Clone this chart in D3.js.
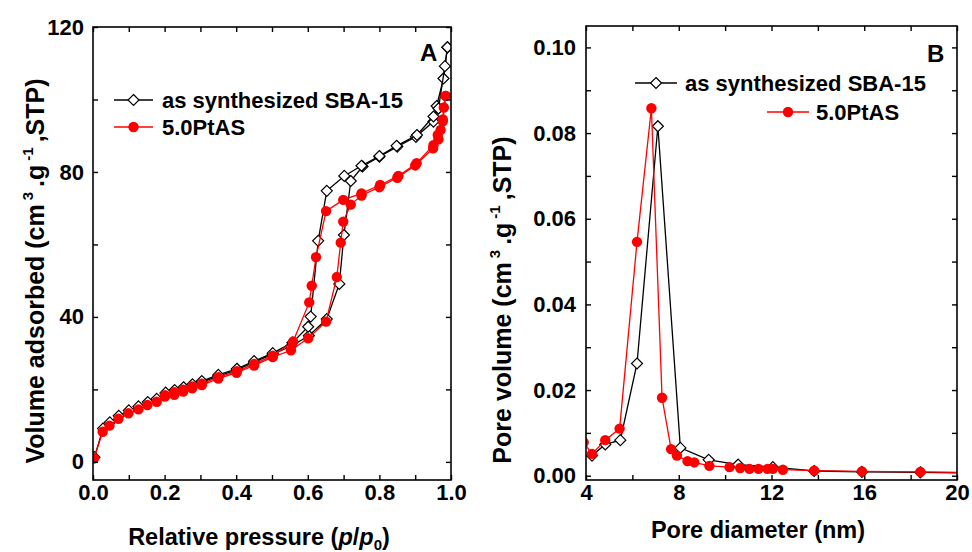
<!DOCTYPE html>
<html><head><meta charset="utf-8">
<script src="https://cdn.jsdelivr.net/npm/d3@7"></script>
<style>
body{margin:0;background:#fff}
svg text{font-family:"Liberation Sans",Arial,sans-serif;font-weight:bold;fill:#000}
</style>
</head><body>
<svg id="c" width="972" height="552"></svg>
<script>
// ---------- Panel A: N2 isotherms (p/p0, cm3/g STP) ----------
const sbaAds = [[0.004,1.3],[0.028,9.2],[0.047,10.9],[0.072,12.7],[0.100,14.2],[0.127,15.3],[0.153,16.5],[0.178,17.4],[0.203,18.9],[0.228,19.5],[0.253,20.3],[0.278,21.1],[0.304,22.0],[0.350,23.7],[0.402,25.4],[0.450,27.5],[0.502,29.7],[0.553,31.9],[0.603,34.8],[0.653,39.4],[0.688,49.1],[0.701,62.6],[0.720,77.5],[0.753,81.5],[0.800,84.2],[0.850,87.0],[0.902,89.7],[0.951,93.9],[0.960,98.2],[0.979,105.8],[0.990,114.4]];
const sbaDes = [[0.990,114.4],[0.983,109.2],[0.965,97.5],[0.951,95.3],[0.905,90.2],[0.848,87.2],[0.800,84.4],[0.750,81.7],[0.702,78.9],[0.653,74.8],[0.629,61.0],[0.608,40.1],[0.601,37.3],[0.557,32.9],[0.502,30.0],[0.450,27.8],[0.402,25.7],[0.350,24.0],[0.304,22.3],[0.278,21.4],[0.253,20.6],[0.228,19.8],[0.203,19.1]];
const ptAds = [[0.003,1.0],[0.027,8.3],[0.046,10.0],[0.071,11.9],[0.099,13.4],[0.127,14.5],[0.152,15.7],[0.178,16.6],[0.201,18.0],[0.227,18.5],[0.252,19.4],[0.277,20.3],[0.304,21.2],[0.350,23.0],[0.401,24.6],[0.450,26.6],[0.502,28.9],[0.553,30.8],[0.601,34.1],[0.651,38.7],[0.681,51.0],[0.692,60.5],[0.699,66.3],[0.720,71.0],[0.750,73.5],[0.800,75.8],[0.850,78.4],[0.900,81.8],[0.950,86.5],[0.963,90.2],[0.971,91.6],[0.977,94.5],[0.980,97.8],[0.985,101.0]];
const ptDes = [[0.985,101.0],[0.977,94.0],[0.965,89.0],[0.951,87.4],[0.904,82.4],[0.853,78.9],[0.802,76.4],[0.750,74.1],[0.699,72.3],[0.651,69.2],[0.623,56.5],[0.611,48.6],[0.604,44.0],[0.559,33.2],[0.502,29.3],[0.450,27.0],[0.402,25.0],[0.350,23.4],[0.304,21.6],[0.277,20.8],[0.252,19.9],[0.227,19.2],[0.201,18.4]];
const aXTicks = [0,0.2,0.4,0.6,0.8,1.0];
const aXMinor = [0.1,0.3,0.5,0.7,0.9];
const aYTicks = [0,40,80,120];
const aYMinor = [20,60,100];

// ---------- Panel B: pore size distribution (nm, cm3/g) ----------
const sbaD = [4.26,4.83,5.48,6.20,7.10,8.07,9.29,10.56,12.06,13.84,15.90,18.42,21.5];
const sbaV = [0.0047,0.0073,0.0083,0.0262,0.0816,0.0065,0.0037,0.0026,0.0020,0.0011,0.0009,0.0008,0.0006];
const ptD = [3.9,4.26,4.83,5.45,6.20,6.82,7.28,7.67,7.92,8.38,8.67,9.32,10.19,10.65,11.05,11.44,11.83,12.06,12.49,13.84,15.90,18.42,21.5];
const ptV = [0.0078,0.0051,0.0083,0.0110,0.0546,0.0858,0.0182,0.0062,0.0047,0.0034,0.0031,0.0023,0.0020,0.0018,0.0016,0.0016,0.0016,0.0016,0.0014,0.0012,0.0010,0.0009,0.0007];
const bXTicks = [4,8,12,16,20];
const bXMinor = [6,10,14,18];
const bYTicks = [0,0.02,0.04,0.06,0.08,0.10];
const bYMinor = [0.01,0.03,0.05,0.07,0.09];

const seriesNames = ["as synthesized SBA-15","5.0PtAS"];
const RED = "#ff0000";

const svg = d3.select("#c");
const FONT = "Liberation Sans, Arial, sans-serif";

function diamondPath(s){ return `M0,${-s}L${s},0L0,${s}L${-s},0Z`; }

function drawFrame(x, y, xT, xM, yT, yM, xFmt, yFmt, xPad, yPad){
  const [x0,x1] = x.range(), [y0,y1] = y.range();
  const g = svg.append("g");
  const tk = 5;
  const style = sel => { sel.select(".domain").remove(); sel.attr("font-family",FONT).attr("font-size",22).attr("font-weight","bold"); sel.selectAll("line").attr("stroke","#000").attr("stroke-width",1.4); sel.selectAll("text").attr("fill","#000"); };
  g.append("g").attr("transform",`translate(0,${y0})`).call(d3.axisBottom(x).tickValues(xT).tickSize(-tk).tickPadding(xPad).tickFormat(xFmt)).call(style);
  g.append("g").attr("transform",`translate(0,${y0})`).call(d3.axisBottom(x).tickValues(xM).tickSize(-tk).tickFormat("")).call(style);
  g.append("g").attr("transform",`translate(0,${y1})`).call(d3.axisTop(x).tickValues(xT.concat(xM)).tickSize(-tk).tickFormat("")).call(style);
  g.append("g").attr("transform",`translate(${x0},0)`).call(d3.axisLeft(y).tickValues(yT).tickSize(-tk).tickPadding(yPad).tickFormat(yFmt)).call(style);
  g.append("g").attr("transform",`translate(${x0},0)`).call(d3.axisLeft(y).tickValues(yM).tickSize(-tk).tickFormat("")).call(style);
  g.append("g").attr("transform",`translate(${x1},0)`).call(d3.axisRight(y).tickValues(yT.concat(yM)).tickSize(-tk).tickFormat("")).call(style);
  g.append("rect").attr("x",x0).attr("y",y1).attr("width",x1-x0).attr("height",y0-y1)
    .attr("fill","none").attr("stroke","#000").attr("stroke-width",1.6);
}

function clip(id, x, y){
  const [x0,x1] = x.range(), [y0,y1] = y.range();
  svg.append("clipPath").attr("id",id).append("rect").attr("x",x0).attr("y",y1).attr("width",x1-x0).attr("height",y0-y1);
}

function series(pts, x, y, color, marker, clipId){
  const g = svg.append("g").attr("clip-path",`url(#${clipId})`);
  g.append("path").datum(pts).attr("d", d3.line().x(d=>x(d[0])).y(d=>y(d[1])))
    .attr("fill","none").attr("stroke",color).attr("stroke-width",1.3);
  if(marker==="diamond"){
    g.selectAll("path.m").data(pts).join("path").attr("class","m")
      .attr("transform",d=>`translate(${x(d[0])},${y(d[1])})`).attr("d",diamondPath(5.5))
      .attr("fill","#fff").attr("stroke","#000").attr("stroke-width",1.2);
  } else {
    g.selectAll("circle").data(pts).join("circle").attr("cx",d=>x(d[0])).attr("cy",d=>y(d[1])).attr("r",5.2).attr("fill",color);
  }
}

function legendRow(lx0, lx1, ly, tx, color, marker, label){
  svg.append("line").attr("x1",lx0).attr("x2",lx1).attr("y1",ly).attr("y2",ly).attr("stroke",color).attr("stroke-width",1.3);
  const cx=(lx0+lx1)/2;
  if(marker==="diamond") svg.append("path").attr("transform",`translate(${cx},${ly})`).attr("d",diamondPath(5.5)).attr("fill","#fff").attr("stroke","#000").attr("stroke-width",1.2);
  else svg.append("circle").attr("cx",cx).attr("cy",ly).attr("r",5.2).attr("fill",color);
  svg.append("text").attr("x",tx).attr("y",ly+7.5).attr("font-size",22).text(label);
}

// ===== Panel A =====
const xA = d3.scaleLinear().domain([0,1]).range([93,451]);
const yA = d3.scaleLinear().domain([-5,120]).range([480,27]);
clip("clipA", xA, yA);
series(sbaAds, xA, yA, "#000", "diamond", "clipA");
series(sbaDes, xA, yA, "#000", "diamond", "clipA");
series(ptAds, xA, yA, RED, "circle", "clipA");
series(ptDes, xA, yA, RED, "circle", "clipA");
drawFrame(xA, yA, aXTicks, aXMinor, aYTicks, aYMinor, d3.format(".1f"), d3.format("d"), 4, 9);
svg.append("text").attr("x",420).attr("y",61).attr("font-size",24).text("A");
legendRow(114,153,100,162,"#000","diamond",seriesNames[0]);
legendRow(114,153,127,162,RED,"circle",seriesNames[1]);

// ===== Panel B =====
const xB = d3.scaleLinear().domain([4,20]).range([586,957]);
const yB = d3.scaleLinear().domain([-0.001,0.105]).range([480,26]);
clip("clipB", xB, yB);
series(sbaD.map((d,i)=>[d,sbaV[i]]), xB, yB, "#000", "diamond", "clipB");
series(ptD.map((d,i)=>[d,ptV[i]]), xB, yB, RED, "circle", "clipB");
drawFrame(xB, yB, bXTicks, bXMinor, bYTicks, bYMinor, d3.format("d"), d3.format(".2f"), 4, 10);
svg.append("text").attr("x",927).attr("y",62).attr("font-size",24).text("B");
legendRow(635,677,83,685,"#000","diamond",seriesNames[0]);
legendRow(767,809,112,816,RED,"circle",seriesNames[1]);

// ===== Axis titles =====
const tA = svg.append("text").attr("x",259).attr("y",545).attr("text-anchor","middle").attr("font-size",23.5);
tA.append("tspan").text("Relative pressure (");
tA.append("tspan").attr("font-style","italic").text("p");
tA.append("tspan").text("/");
tA.append("tspan").attr("font-style","italic").text("p");
tA.append("tspan").attr("font-size",15).attr("dy",5).text("0");
tA.append("tspan").attr("dy",-5).text(")");

svg.append("text").attr("x",758).attr("y",538).attr("text-anchor","middle").attr("font-size",23.5).text("Pore diameter (nm)");

function yTitle(tx, ty, lead){
  const t = svg.append("text").attr("transform",`translate(${tx},${ty}) rotate(-90)`).attr("text-anchor","middle").attr("font-size",25);
  t.append("tspan").text(lead + " (cm");
  t.append("tspan").attr("font-size",15).attr("dx",4).attr("dy",-11).text("3");
  t.append("tspan").attr("dx",5).attr("dy",11).text(".g");
  t.append("tspan").attr("font-size",15).attr("dx",4).attr("dy",-11).text("-1");
  t.append("tspan").attr("dx",5).attr("dy",11).text(",STP)");
}
yTitle(44, 271, "Volume adsorbed");
yTitle(511, 300, "Pore volume");
</script>
</body></html>
